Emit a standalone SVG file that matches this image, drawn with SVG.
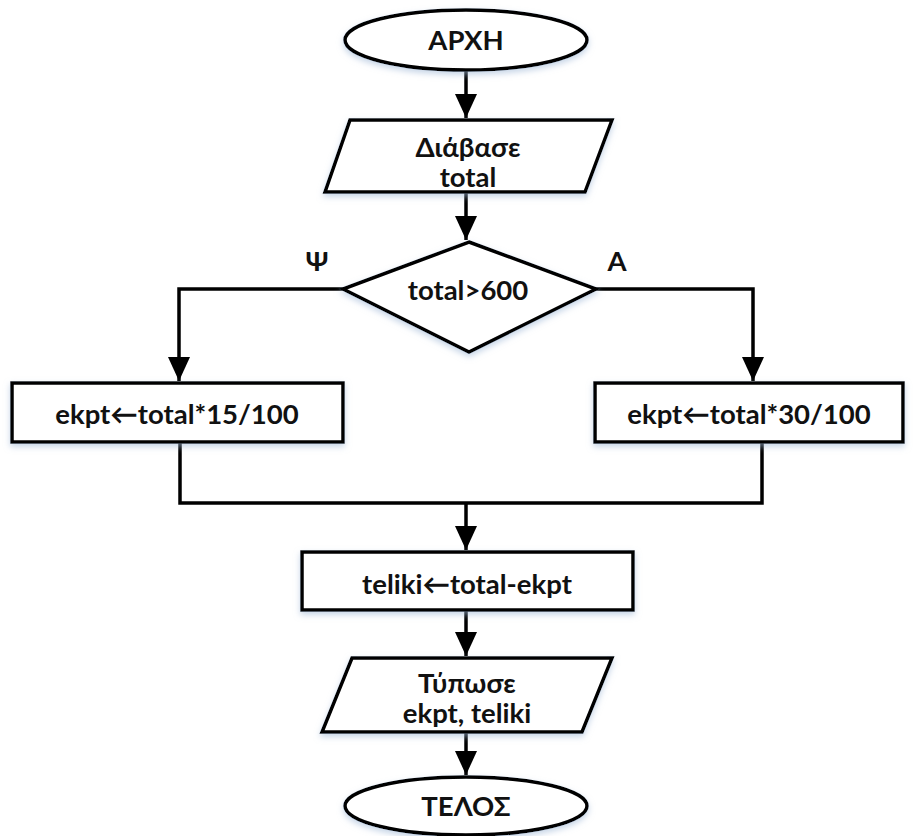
<svg xmlns="http://www.w3.org/2000/svg" width="915" height="836" viewBox="0 0 915 836">
<style>
.shape{fill:#ffffff;stroke:#000000;stroke-width:3.5;filter:url(#sh)}
.lbl{font-family:Lato,"Liberation Sans","Noto Sans",sans-serif;font-weight:bold;font-size:27.5px;fill:#111111;text-anchor:middle}
.conn{fill:none;stroke:#000000;stroke-width:3.5}
</style>
<defs>
<filter id="sh" x="-10%" y="-20%" width="120%" height="150%">
<feDropShadow dx="0" dy="3" stdDeviation="3" flood-color="#9fb7d6" flood-opacity="0.6"/>
</filter>
<marker id="arr" markerUnits="userSpaceOnUse" markerWidth="24" markerHeight="24" refX="24" refY="11" orient="auto" viewBox="0 0 24 22">
<path d="M0,0 L24,11 L0,22 Z" fill="#000000"/>
</marker>
</defs>
<g id="connectors">
<path class="conn" d="M466,71 V118" marker-end="url(#arr)"/>
<path class="conn" d="M466,192 V240" marker-end="url(#arr)"/>
<path class="conn" d="M343,289 H179 V381" marker-end="url(#arr)"/>
<path class="conn" d="M596,289 H753 V381" marker-end="url(#arr)"/>
<path class="conn" d="M180,442 V503 H762 V442"/>
<path class="conn" d="M466,503 V550" marker-end="url(#arr)"/>
<path class="conn" d="M466,610 V656" marker-end="url(#arr)"/>
<path class="conn" d="M466,732 V775" marker-end="url(#arr)"/>
</g>
<g id="start">
<ellipse class="shape" cx="466" cy="40" rx="121" ry="30"/>
<text class="lbl" x="466" y="50">ΑΡΧΗ</text>
</g>
<g id="read">
<polygon class="shape" points="350,120 612,120 585,192 325,192"/>
<text class="lbl" x="468" y="157">Διάβασε</text>
<text class="lbl" x="468" y="187">total</text>
</g>
<g id="decision">
<polygon class="shape" points="469,242 596,289 469,352 343,289"/>
<text class="lbl" x="468" y="300">total&gt;600</text>
</g>
<g id="label-no">
<text class="lbl" x="317" y="271">Ψ</text>
</g>
<g id="label-yes">
<text class="lbl" x="617" y="271">Α</text>
</g>
<g id="calc15">
<rect class="shape" x="12" y="383" width="331" height="59"/>
<text class="lbl" x="177" y="424">ekpt←total*15/100</text>
</g>
<g id="calc30">
<rect class="shape" x="595" y="383" width="308" height="59"/>
<text class="lbl" x="749" y="424">ekpt←total*30/100</text>
</g>
<g id="final">
<rect class="shape" x="302" y="552" width="331" height="58"/>
<text class="lbl" x="467" y="594">teliki←total-ekpt</text>
</g>
<g id="print">
<polygon class="shape" points="352,658 612,658 582,732 322,732"/>
<text class="lbl" x="467" y="693">Τύπωσε</text>
<text class="lbl" x="467" y="723">ekpt, teliki</text>
</g>
<g id="end">
<ellipse class="shape" cx="466" cy="806" rx="121" ry="29"/>
<text class="lbl" x="466" y="816">ΤΕΛΟΣ</text>
</g>
</svg>
